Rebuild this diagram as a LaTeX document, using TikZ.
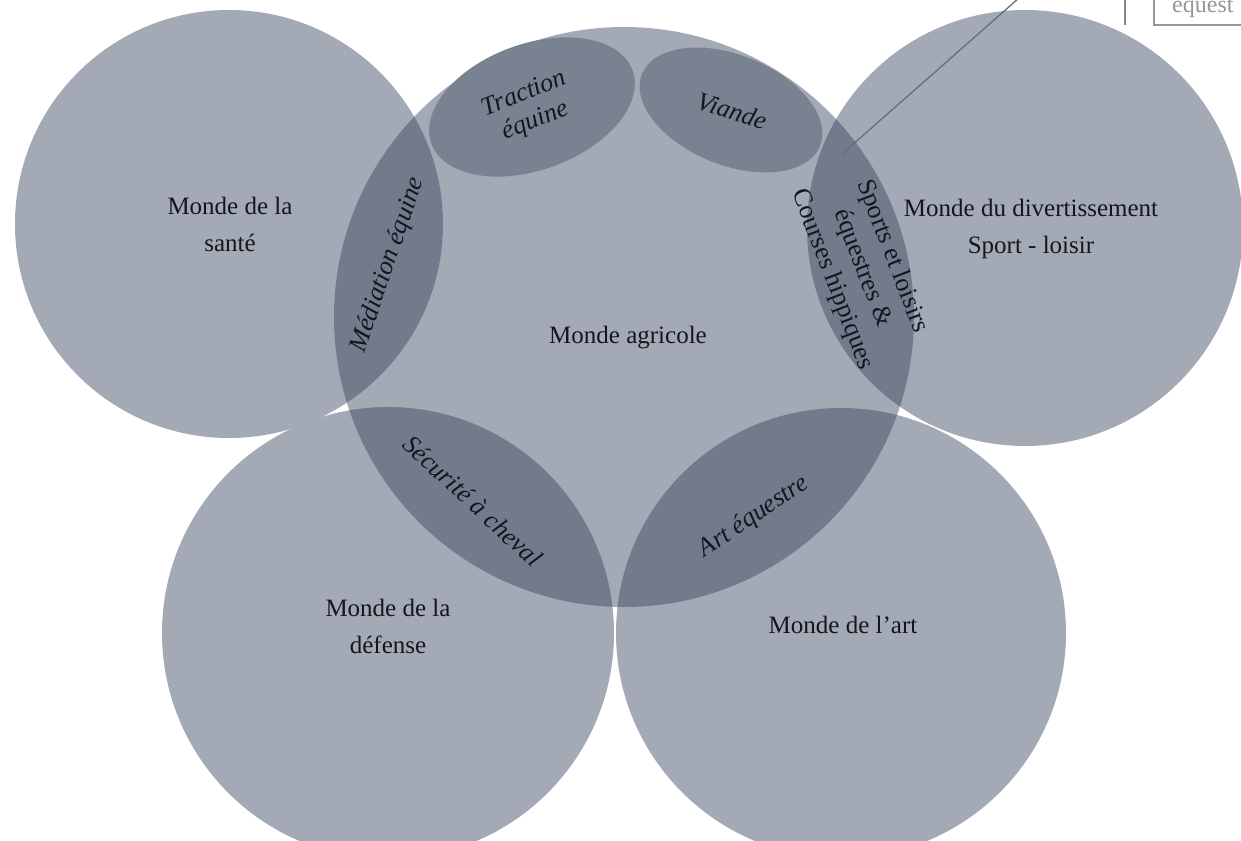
\documentclass[tikz,border=0pt]{standalone}
\usepackage{fontspec}
\setmainfont{Liberation Serif}
\begin{document}
\begin{tikzpicture}[x=1pt,y=-1pt]
\definecolor{circfill}{RGB}{163,170,182}
\definecolor{lensfill}{RGB}{113,123,139}
\definecolor{ovalfill}{RGB}{121,130,145}
\definecolor{txt}{RGB}{20,22,28}
\definecolor{callout}{RGB}{105,110,120}
\definecolor{notegray}{RGB}{150,150,150}
\tikzset{
  world/.style={fill=circfill},
  lens/.style={fill=lensfill},
  oval/.style={fill=ovalfill},
  mainlabel/.style={text=txt,align=center,inner sep=0pt,font=\fontsize{25}{37}\selectfont},
  itlabel/.style={text=txt,align=center,inner sep=0pt,font=\fontsize{26}{29}\selectfont\itshape},
  uplabel/.style={text=txt,align=center,inner sep=0pt,font=\fontsize{26}{32}\selectfont},
}
\useasboundingbox (0,0) rectangle (1241,840);
\clip (0,0) rectangle (1241,840);
\fill[white] (0,0) rectangle (1241,840);
% centres
\coordinate (cS) at (229,224);
\coordinate (cR) at (1025,228);
\coordinate (cD) at (388,633);
\coordinate (cT) at (841,633);
\coordinate (cA) at (624,317);
% circles
\fill[world] (cS) circle[radius=214pt];
\fill[world] (cR) circle[radius=218pt];
\fill[world] (cD) circle[radius=226pt];
\fill[world] (cT) circle[radius=225pt];
\fill[world] (cA) circle[radius=290pt];
% lenses
\begin{scope}
  \clip (cA) circle[radius=290pt];
  \fill[lens] (cS) circle[radius=214pt];
  \fill[lens] (cR) circle[radius=218pt];
  \fill[lens] (cD) circle[radius=226pt];
  \fill[lens] (cT) circle[radius=225pt];
\end{scope}
% ovals
\fill[oval] (532,107) ellipse[x radius=107pt, y radius=63pt, rotate=20];
\fill[oval] (731,110) ellipse[x radius=96pt, y radius=55pt, rotate=-22];
% main labels
\node[mainlabel] (sante) at (230,224) {Monde de la\\santé};
\node[mainlabel] (agri) at (628,338) {Monde agricole};
\node[mainlabel] (divert) at (1031,229) {Monde du divertissement\\Sport - loisir};
\node[mainlabel] (defense) at (388,626) {Monde de la\\défense};
\node[mainlabel] (artw) at (843,625) {Monde de l’art};
% overlap labels
\node[itlabel, rotate=71] (medi) at (388,265) {Médiation équine};
\node[itlabel, rotate=22] (tract) at (530,108) {Traction\\équine};
\node[itlabel, rotate=-18] (viande) at (732,111) {Viande};
\node[itlabel, rotate=-43] (secu) at (473,501) {Sécurité à cheval};
\node[itlabel, rotate=34] (arteq) at (754,517) {Art équestre};
\node[uplabel, rotate=-69] (sports) at (862,268) {Sports et loisirs\\équestres \&\\Courses hippiques};
% callout fragments
\coordinate (callA) at (842,154);
\coordinate (callB) at (1019,-2);
\draw[callout, line width=1.3pt] (callA) -- (callB);
\coordinate (barTop) at (1125,-2);
\coordinate (barBot) at (1125,25);
\draw[notegray!90!black, line width=1.6pt] (barTop) -- (barBot);
\draw[notegray, line width=1.4pt] (1154,-20) rectangle (1270,25);
\node[anchor=base west, inner sep=0pt, text=notegray, font=\fontsize{24}{28}\selectfont] (note) at (1172,13) {equest};
\end{tikzpicture}
\end{document}
